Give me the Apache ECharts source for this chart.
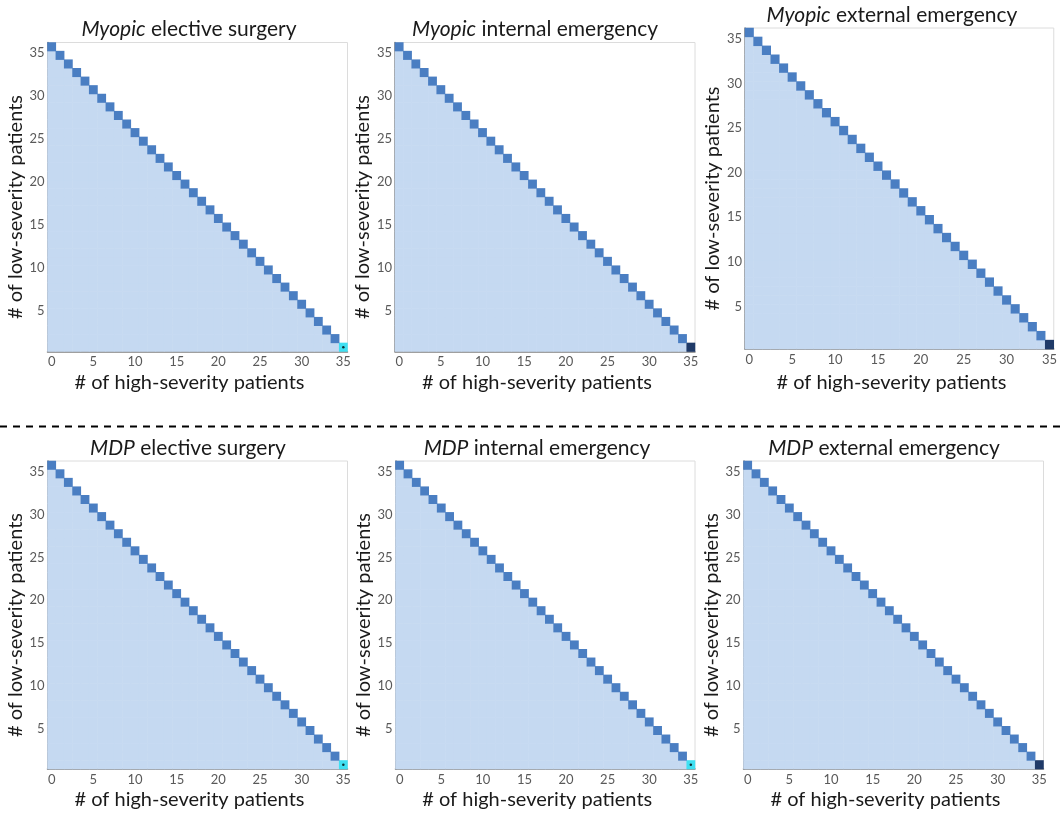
<!DOCTYPE html>
<html>
<head>
<meta charset="utf-8">
<script src="https://cdn.jsdelivr.net/npm/echarts@6/dist/echarts.min.js"></script>
<style>
  html, body { margin: 0; padding: 0; background: #ffffff; }
  #chart { width: 1060px; height: 816px; }
</style>
</head>
<body>
<div id="chart"></div>
<script>
// Patient counts on each axis (state-space categories)
const highSeverity = [0,1,2,3,4,5,6,7,8,9,10,11,12,13,14,15,16,17,18,19,20,21,22,23,24,25,26,27,28,29,30,31,32,33,34,35];
const lowSeverity  = [0,1,2,3,4,5,6,7,8,9,10,11,12,13,14,15,16,17,18,19,20,21,22,23,24,25,26,27,28,29,30,31,32,33,34,35];

// Tick labels
const xTicks = [0,5,10,15,20,25,30,35];
const yTicks = [5,10,15,20,25,30,35];

// For each low-severity count (row 0..35): high-severity count of the full-capacity state
const boundaryHigh = [35,34,33,32,31,30,29,28,27,26,25,24,23,22,21,20,19,18,17,16,15,14,13,12,11,10,9,8,7,6,5,4,3,2,1,0];

// State classes: 1 feasible state, 2 full-capacity state, 3 highlighted corner, 4 dark corner
const cornerClass = [3, 4, 4, 3, 3, 4];

// Panel titles: [policy, scenario]
const policies  = ['Myopic', 'Myopic', 'Myopic', 'MDP', 'MDP', 'MDP'];
const scenarios = ['elective surgery', 'internal emergency', 'external emergency',
                   'elective surgery', 'internal emergency', 'external emergency'];

const FONT = 'Lato';
const classColors = { 1: '#c5d9f1', 2: '#4a7ec2', 3: '#3fe0f2', 4: '#1f3a68' };

// Plot rectangles for the 2 x 3 panel layout
const grids = [
  { left: 47.5,  top: 42.5, width: 300,   height: 309 },
  { left: 395,   top: 42.5, width: 300,   height: 309 },
  { left: 745,   top: 28,   width: 311,   height: 321 },
  { left: 47.5,  top: 461,  width: 300,   height: 308 },
  { left: 395.5, top: 461,  width: 299.5, height: 308 },
  { left: 743.5, top: 461,  width: 300,   height: 308 }
];
const titlePos = [[189, 19], [535, 19], [892, 5], [188, 438], [537, 438], [884, 438]];

function panelData(p) {
  const out = [];
  for (let y = 0; y < lowSeverity.length; y++) {
    const b = boundaryHigh[y];
    for (let x = 0; x <= b; x++) {
      let cls = x < b ? 1 : 2;
      if (x === b && y === 0) cls = cornerClass[p];
      out.push([x, y, cls]);
    }
  }
  return out;
}

const option = {
  animation: false,
  backgroundColor: '#ffffff',
  textStyle: { fontFamily: FONT },
  title: [],
  grid: [],
  xAxis: [],
  yAxis: [],
  series: [],
  visualMap: {
    type: 'piecewise',
    show: false,
    dimension: 2,
    seriesIndex: [0, 1, 2, 3, 4, 5],
    pieces: [
      { value: 1, color: classColors[1] },
      { value: 2, color: classColors[2] },
      { value: 3, color: classColors[3] },
      { value: 4, color: classColors[4] }
    ]
  },
  graphic: [{
    type: 'line',
    shape: { x1: 0, y1: 426.5, x2: 1060, y2: 426.5 },
    style: { stroke: '#000000', lineWidth: 2, lineDash: [7, 6] },
    silent: true
  }]
};

for (let p = 0; p < 6; p++) {
  option.title.push({
    text: '{i|' + policies[p] + '} ' + scenarios[p],
    left: titlePos[p][0],
    top: titlePos[p][1],
    textAlign: 'center',
    padding: 0,
    textStyle: {
      fontFamily: FONT, fontSize: 21, fontWeight: 'normal', color: '#1a1a1a',
      rich: { i: { fontFamily: FONT, fontSize: 21, fontStyle: 'italic', color: '#1a1a1a' } }
    }
  });
  option.grid.push(Object.assign({
    show: true, borderColor: '#dcdcdc', borderWidth: 1, backgroundColor: 'transparent'
  }, grids[p]));
  option.xAxis.push({
    type: 'category',
    gridIndex: p,
    data: highSeverity.map(String),
    boundaryGap: true,
    name: '# of high-severity patients',
    nameLocation: 'middle',
    nameGap: p === 2 ? 24 : 21,
    nameTextStyle: { fontFamily: FONT, fontSize: 20, color: '#1a1a1a', padding: [0, 16, 0, 0] },
    axisLine: { show: true, lineStyle: { color: '#808080', width: 1.5 } },
    axisTick: { show: false },
    axisLabel: {
      interval: (idx, val) => xTicks.includes(Number(val)),
      margin: 4, color: '#595959', fontFamily: FONT, fontSize: 13
    },
    splitLine: { show: false }
  });
  option.yAxis.push({
    type: 'category',
    gridIndex: p,
    data: lowSeverity.map(String),
    boundaryGap: true,
    name: '# of low-severity patients',
    nameLocation: 'middle',
    nameGap: 13,
    nameTextStyle: { fontFamily: FONT, fontSize: 20, color: '#1a1a1a', padding: [0, 20, 0, 0] },
    axisLine: { show: true, lineStyle: { color: '#808080', width: 1.5 } },
    axisTick: { show: false },
    axisLabel: {
      interval: (idx, val) => yTicks.includes(Number(val)),
      margin: 3, color: '#595959', fontFamily: FONT, fontSize: 13, verticalAlign: 'top'
    },
    splitLine: { show: false }
  });
  option.series.push({
    type: 'heatmap',
    xAxisIndex: p,
    yAxisIndex: p,
    data: panelData(p),
    silent: true,
    z: 1
  });
}

// Small black marker on the highlighted corner states
for (let p = 0; p < 6; p++) {
  if (cornerClass[p] === 3) {
    option.series.push({
      type: 'scatter',
      xAxisIndex: p,
      yAxisIndex: p,
      data: [[boundaryHigh[0], 0]],
      symbol: 'circle',
      symbolSize: 2.5,
      itemStyle: { color: '#000000' },
      silent: true,
      z: 3
    });
  }
}

const chart = echarts.init(document.getElementById('chart'), null, { renderer: 'canvas' });
chart.setOption(option);
</script>
</body>
</html>
